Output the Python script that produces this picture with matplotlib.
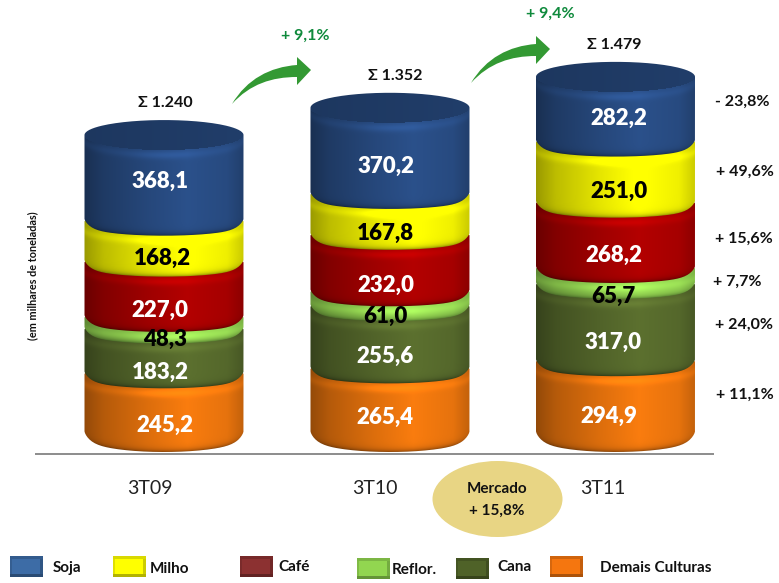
import numpy as np
import matplotlib
matplotlib.use("Agg")
import matplotlib.pyplot as plt
from matplotlib.patches import Ellipse, PathPatch, Rectangle
from matplotlib.path import Path

periodos = ["3T09", "3T10", "3T11"]
demais = [245.2, 265.4, 294.9]
cana = [183.2, 255.6, 317.0]
reflor = [48.3, 61.0, 65.7]
cafe = [227.0, 232.0, 268.2]
milho = [168.2, 167.8, 251.0]
soja = [368.1, 370.2, 282.2]
totais = ["Σ 1.240", "Σ 1.352", "Σ 1.479"]
variacao = ["+ 11,1%", "+ 24,0%", "+ 7,7%", "+ 15,6%", "+ 49,6%", "- 23,8%"]
crescimento = ["+ 9,1%", "+ 9,4%"]
nomes_legenda = ["Soja", "Milho", "Café", "Reflor.", "Cana", "Demais Culturas"]

series = [demais, cana, reflor, cafe, milho, soja]
cores = ["#f57a0e", "#5a6e2e", "#9ade55", "#b00000", "#ffff00", "#2a4f88"]
cor_texto = ["white", "white", "black", "white", "black", "white"]

W, H = 779, 583
plt.rcParams["font.family"] = ["Lato", "DejaVu Sans"]

# escala: 1 unidade = ESC px, base do cilindro em y=437
ESC = 0.2435
BASE = 437
fig = plt.figure(figsize=(W / 100, H / 100), dpi=100)
ax = fig.add_axes([0, 0, 1, 1])
ax.set_xlim(0, W)
ax.set_ylim(H, 0)
ax.axis("off")

centros = [164, 390, 615.5]
MEIA_L = 79.5

# ajuste dos rotulos (px) em relacao ao meio de cada fatia, por periodo e por fatia
dx_rot = [[1, -4, 1, -4, -2, -4], [-5, -5, -5, -4, -5, -4], [-7, -2, -2, -2, 4, 3]]
dy_rot = [[18, 17, 13, 17, 13, 2], [13, 15, 14, 18, 15, 14], [15, 16, 16, 16, 15, 7]]
dx_total = [1, 5, -1]


def y_px(v):
    return BASE - v * ESC


def segmento(cx, v0, v1, cor, b_top, b_bot, topo=False):
    yt = y_px(v1)
    yb = y_px(v0)
    x0, x1 = cx - MEIA_L, cx + MEIA_L
    base = np.array(matplotlib.colors.to_rgb(cor))

    # contorno: elipse em cima e embaixo, cantos levantados
    t = np.linspace(np.pi, 2 * np.pi, 80)
    xs_top = cx + MEIA_L * np.cos(t)
    ys_top = yt + b_top * np.sin(t) + (0 if topo else -3) * np.abs(np.cos(t)) ** 10
    t2 = np.linspace(0, np.pi, 80)
    xs_bot = cx + MEIA_L * np.cos(t2)
    ys_bot = yb + b_bot * np.sin(t2) - 6 * np.abs(np.cos(t2)) ** 12
    pts = np.vstack([np.c_[xs_top, ys_top], np.c_[xs_bot, ys_bot], [[xs_top[0], ys_top[0]]]])

    xx = np.arange(x0 - 1, x1 + 2) + 0.5
    yy = np.arange(int(yt - b_top) - 4, int(yb + b_bot) + 3) + 0.5
    X, Y = np.meshgrid(xx, yy)
    u = np.clip((X - cx) / MEIA_L, -1, 1)
    arco = np.sqrt(1 - u ** 2)

    # luz horizontal: escuro a esquerda, pico um pouco a direita do centro
    horiz = np.interp(u, [-1, -0.75, -0.2, 0.3, 0.8, 1], [0.6, 0.74, 0.9, 1.02, 0.94, 0.8])
    luz = horiz.copy()
    # borda inferior escura
    d_bot = yb + b_bot * arco - Y
    luz *= 1 - 0.42 * np.exp(-np.clip(d_bot, 0, None) / 2.5)
    # faixa clara logo abaixo do aro superior
    d_top = Y - (yt + b_top * arco)
    luz += (0.08 + 0.1 * np.exp(-(u / 0.4) ** 2)) * np.exp(-((d_top - 5) / 4.0) ** 2)
    if topo:
        # face de cima do cilindro
        face = 0.74 + 0.04 * u
        luz = np.where(d_top < 0, face, luz)
    img = np.clip(luz[..., None] * base, 0, 1)
    im = ax.imshow(img, extent=(xx[0] - 0.5, xx[-1] + 0.5, yy[-1] + 0.5, yy[0] - 0.5),
                   aspect="auto", interpolation="bilinear", zorder=3)
    patch = PathPatch(Path(pts), transform=ax.transData, fc="none", ec="none")
    ax.add_patch(patch)
    im.set_clip_path(patch)


# linha de base
ax.plot([35, 714], [453.7, 453.7], color="#8c8c8c", lw=1.4, zorder=1, solid_capstyle="butt")

for i, cx in enumerate(centros):
    acum = 0
    for j, s in enumerate(series):
        v = s[i]
        topo = j == len(series) - 1
        segmento(cx, acum, acum + v, cores[j], 15 if topo else 11, 15 if j == 0 else 11, topo)
        acum += v
    acum = 0
    for j, s in enumerate(series):
        v = s[i]
        ax.text(cx + dx_rot[i][j], y_px(acum + v / 2) + dy_rot[i][j], f"{v:.1f}".replace(".", ","),
                color=cor_texto[j], ha="center", va="center", fontsize=16, fontweight=800, zorder=5)
        acum += v
    ax.text(cx + dx_total[i], y_px(acum) - 32, totais[i], ha="center", va="center", fontsize=11.5,
            fontweight="bold", color="#111111")

for x, t in zip([150, 375, 603], periodos):
    ax.text(x, 488, t, ha="center", va="center", fontsize=14, color="#222222")

# variacao 3T11 x 3T10
ys_var = [395, 325, 282, 239, 172, 102]
xs_var = [745, 744, 737, 744, 745, 742]
for x, y, t in zip(xs_var, ys_var, variacao):
    ax.text(x, y, t, ha="center", va="center", fontsize=11.5, fontweight="bold", color="#111111")


# setas verdes
def seta(x0, y0):
    rel = [(0, 0), (15, -25), (38, -37), (65, -39), (65, -47), (79, -34), (65, -19), (65, -27),
           (40, -27), (18, -20), (0, 0), (0, 0)]
    codes = [Path.MOVETO, Path.CURVE4, Path.CURVE4, Path.CURVE4, Path.LINETO, Path.LINETO, Path.LINETO,
             Path.LINETO, Path.CURVE4, Path.CURVE4, Path.CURVE4, Path.CLOSEPOLY]
    verts = [(x0 + a, y0 + b) for a, b in rel]
    ax.add_patch(PathPatch(Path(verts, codes), fc="#339933", ec="none", zorder=4))


seta(232, 104)
seta(471, 83)
ax.text(305, 36, crescimento[0], ha="center", va="center", color="#0f8a3c", fontsize=11.5, fontweight="bold")
ax.text(550, 14, crescimento[1], ha="center", va="center", color="#0f8a3c", fontsize=11.5, fontweight="bold")

ax.text(33, 276, "(em milhares de toneladas)", rotation=90, ha="center", va="center",
        fontsize=7.8, fontweight="bold", color="#111111")

# mercado
ax.add_patch(Ellipse((497.5, 499), 130, 76, fc="#e8d584", ec="none", zorder=2))
ax.text(497, 489, "Mercado", ha="center", va="center", fontsize=11, fontweight="bold", color="#111111", zorder=3)
ax.text(497, 511, "+ 15,8%", ha="center", va="center", fontsize=11, fontweight="bold", color="#111111", zorder=3)

# legenda
leg_x = [10, 113, 240, 357, 456, 550]
leg_y = [556, 556, 556, 558, 558, 556]
txt_x = [53, 150, 278, 392, 497, 600]
txt_y = [568, 569, 567, 570, 567, 568]
leg_cor = ["#3d6ca6", "#ffff00", "#8c3131", "#92d650", "#4f6228", "#f5760f"]
for x, y, tx, ty, c, nome in zip(leg_x, leg_y, txt_x, txt_y, leg_cor, nomes_legenda):
    ax.add_patch(Rectangle((x, y), 33, 21, fc=c, ec="none"))
    ax.add_patch(Rectangle((x, y), 33, 2.5, fc="black", alpha=0.15, ec="none"))
    ax.add_patch(Rectangle((x, y + 18), 33, 3, fc="black", alpha=0.3, ec="none"))
    ax.add_patch(Rectangle((x, y + 2.5), 2.5, 15.5, fc="black", alpha=0.12, ec="none"))
    ax.add_patch(Rectangle((x + 30.5, y + 2.5), 2.5, 15.5, fc="black", alpha=0.2, ec="none"))
    ax.text(tx, ty, nome, ha="left", va="center", fontsize=11, fontweight="bold", color="#111111")

fig.savefig("out.png", dpi=100)
